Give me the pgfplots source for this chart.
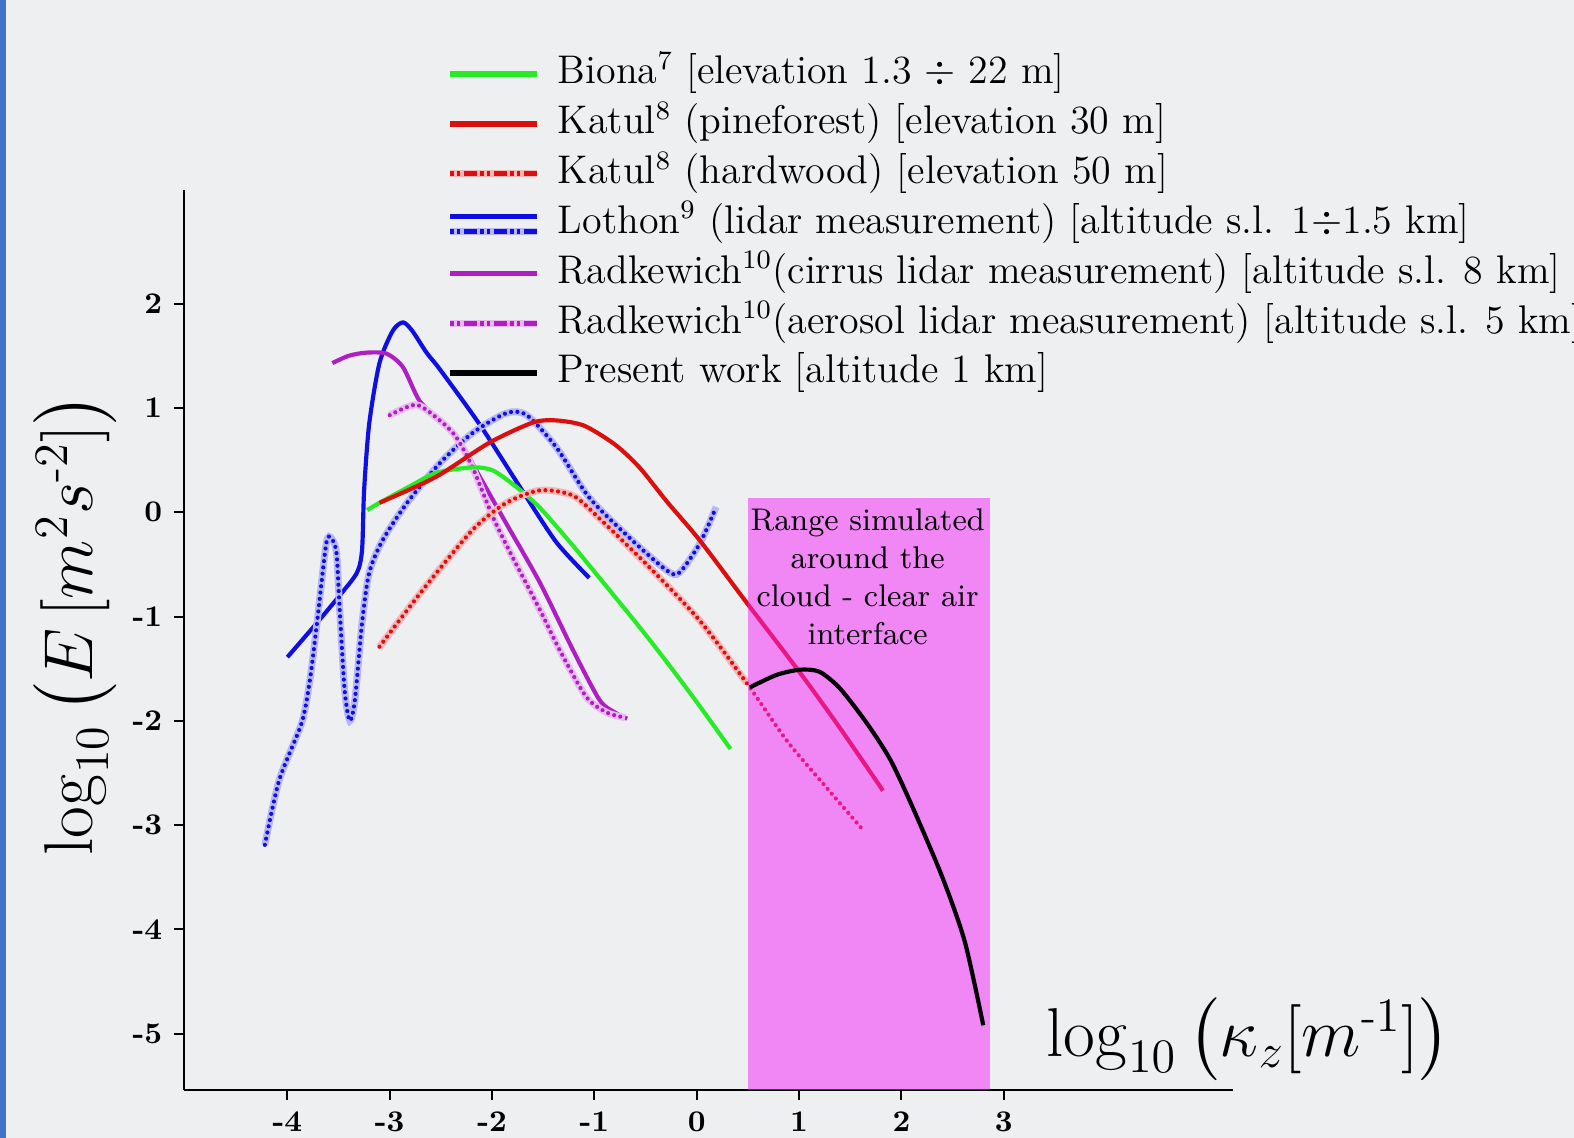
\documentclass[border=0pt]{standalone}
\usepackage{amsmath}
\usepackage{pgfplots}
\pgfplotsset{compat=1.18}
\definecolor{bgc}{RGB}{237,239,241}
\definecolor{strip}{RGB}{68,114,196}
\definecolor{cgreen}{RGB}{40,235,40}
\definecolor{cred}{RGB}{220,15,15}
\definecolor{cblue}{RGB}{15,15,225}
\definecolor{cmag}{RGB}{175,30,195}
\definecolor{cpink}{RGB}{244,32,250}
\pgfplotsset{
  solidline/.style={line width=1.25pt, smooth, tension=0.45, forget plot},
  halo/.style={#1!30, line width=2.1pt, smooth, tension=0.45, forget plot},
  dots/.style={#1, line width=1.25pt, smooth, tension=0.45, dash pattern=on 0pt off 1.9pt, line cap=round, forget plot},
}
\begin{document}
\begin{tikzpicture}
\fill[bgc] (-55.2pt,-14.4pt) rectangle (417pt,327pt);
\fill[strip] (-55.2pt,-14.4pt) rectangle (-53.4pt,327pt);
\begin{axis}[
  scale only axis, width=314.7pt, height=270pt,
  xmin=-5.01, xmax=5.24, ymin=-5.54, ymax=3.09,
  axis x line=bottom, axis y line=left,
  axis line style={-, line width=0.8pt},
  xtick={-4,...,3}, xticklabels={-4,-3,-2,-1,0,1,2,3},
  ytick={-5,...,2}, yticklabels={-5,-4,-3,-2,-1,0,1,2},
  tick align=outside, major tick length=3pt,
  tick style={line width=0.6pt, black},
  ticklabel style={font=\small\bfseries},
  xlabel={$\log_{10}\left(\kappa_z[m^{\text{-}1}]\right)$},
  ylabel={$\log_{10}\left(E\,[m^2s^{\text{-}2}]\right)$},
  xlabel style={at={(axis description cs:0.811,0.056)}, anchor=west, font=\fontsize{19.5}{23}\selectfont},
  ylabel style={at={(axis description cs:-0.104,0.517)}, anchor=center, font=\fontsize{19.5}{23}\selectfont},
  legend style={at={(axis description cs:0.2507,1.149)}, anchor=north west, draw=none, fill=none, inner sep=0pt, outer sep=0pt,
    font=\fontsize{12}{14}\selectfont, row sep=4.05pt,
    nodes={inner sep=0pt, text height=8.4pt, text depth=2.5pt},
    /tikz/every odd column/.append style={column sep=5.4pt}},
  legend cell align=left,
  legend image code/.code={\draw[#1] (0cm,0cm) -- (0.91cm,0cm);},
]
% Lothon solid
\addplot[cblue, solidline] coordinates {(-4.0,-1.39) (-3.85,-1.22) (-3.71,-1.06) (-3.49,-0.80) (-3.32,-0.58) (-3.27,-0.36) (-3.25,0.21) (-3.20,0.85) (-3.10,1.43) (-2.97,1.74) (-2.87,1.82) (-2.78,1.74) (-2.64,1.53) (-2.51,1.37) (-2.12,0.84) (-1.70,0.20) (-1.37,-0.29) (-1.05,-0.63)};
% Lothon dotted
\addplot[halo=cblue] coordinates {(-4.22,-3.19) (-4.08,-2.57) (-3.86,-2.02) (-3.78,-1.61) (-3.71,-1.06) (-3.62,-0.30) (-3.57,-0.25) (-3.52,-0.39) (-3.49,-0.91) (-3.44,-1.71) (-3.39,-2.00) (-3.34,-1.80) (-3.27,-1.06) (-3.20,-0.58) (-3.07,-0.27) (-2.83,0.09) (-2.51,0.47) (-2.19,0.76) (-1.86,0.95) (-1.66,0.93) (-1.37,0.62) (-1.05,0.14) (-0.63,-0.27) (-0.29,-0.56) (-0.17,-0.58) (0.03,-0.30) (0.19,0.05)};
\addplot[dots=cblue] coordinates {(-4.22,-3.19) (-4.08,-2.57) (-3.86,-2.02) (-3.78,-1.61) (-3.71,-1.06) (-3.62,-0.30) (-3.57,-0.25) (-3.52,-0.39) (-3.49,-0.91) (-3.44,-1.71) (-3.39,-2.00) (-3.34,-1.80) (-3.27,-1.06) (-3.20,-0.58) (-3.07,-0.27) (-2.83,0.09) (-2.51,0.47) (-2.19,0.76) (-1.86,0.95) (-1.66,0.93) (-1.37,0.62) (-1.05,0.14) (-0.63,-0.27) (-0.29,-0.56) (-0.17,-0.58) (0.03,-0.30) (0.19,0.05)};
% Radkewich cirrus
\addplot[cmag, solidline] coordinates {(-3.56,1.43) (-3.40,1.50) (-3.23,1.53) (-3.03,1.52) (-2.87,1.39) (-2.71,1.07) (-2.51,0.88) (-2.32,0.69) (-2.12,0.34) (-1.86,-0.11) (-1.53,-0.68) (-1.21,-1.32) (-0.95,-1.80) (-0.80,-1.92) (-0.68,-1.98)};
% Radkewich aerosol
\addplot[halo=cmag] coordinates {(-3.00,0.93) (-2.74,1.03) (-2.51,0.88) (-2.35,0.72) (-2.19,0.43) (-1.99,-0.05) (-1.80,-0.43) (-1.53,-0.94) (-1.34,-1.32) (-1.08,-1.77) (-0.88,-1.92) (-0.70,-1.97)};
\addplot[dots=cmag] coordinates {(-3.00,0.93) (-2.74,1.03) (-2.51,0.88) (-2.35,0.72) (-2.19,0.43) (-1.99,-0.05) (-1.80,-0.43) (-1.53,-0.94) (-1.34,-1.32) (-1.08,-1.77) (-0.88,-1.92) (-0.70,-1.97)};
% Biona
\addplot[cgreen, solidline] coordinates {(-3.22,0.02) (-3.10,0.09) (-2.80,0.25) (-2.54,0.38) (-2.19,0.43) (-1.99,0.40) (-1.76,0.24) (-1.53,0.04) (-1.21,-0.32) (-0.95,-0.63) (-0.56,-1.10) (-0.29,-1.44) (0.0,-1.82) (0.33,-2.27)};
% Katul pineforest
\addplot[cred, solidline] coordinates {(-3.10,0.09) (-2.80,0.22) (-2.51,0.36) (-2.02,0.67) (-1.60,0.86) (-1.37,0.88) (-1.10,0.83) (-0.80,0.65) (-0.56,0.43) (-0.29,0.10) (0.03,-0.27) (0.49,-0.87) (1.01,-1.54) (1.40,-2.07) (1.82,-2.67)};
% Katul hardwood
\addplot[halo=cred] coordinates {(-3.10,-1.29) (-2.68,-0.75) (-2.19,-0.17) (-1.86,0.09) (-1.53,0.21) (-1.21,0.16) (-0.95,-0.06) (-0.46,-0.53) (0.03,-1.04) (0.49,-1.64)};
\addplot[dots=cred] coordinates {(-3.10,-1.29) (-2.68,-0.75) (-2.19,-0.17) (-1.86,0.09) (-1.53,0.21) (-1.21,0.16) (-0.95,-0.06) (-0.46,-0.53) (0.03,-1.04) (0.49,-1.64) (0.88,-2.19) (1.25,-2.62) (1.61,-3.03)};
% simulated range
\addplot[draw=none, fill=cpink, fill opacity=0.5, forget plot] coordinates {(0.5,-5.54) (0.5,0.14) (2.87,0.14) (2.87,-5.54)};
\node[align=center, font=\fontsize{9.4}{11.4}\selectfont, inner sep=0pt] at (axis cs:1.67,-0.62) {Range simulated\\around the\\cloud - clear air\\interface};
% Present work
\addplot[black, solidline] coordinates {(0.52,-1.68) (0.78,-1.56) (1.01,-1.51) (1.20,-1.53) (1.40,-1.69) (1.66,-2.02) (1.89,-2.37) (2.11,-2.83) (2.40,-3.50) (2.62,-4.12) (2.80,-4.92)};
% legend
\addlegendimage{cgreen, line width=1.6pt}
\addlegendentry{Biona$^7$ [elevation 1.3 $\div$ 22 m]}
\addlegendimage{cred, line width=1.6pt}
\addlegendentry{Katul$^8$ (pineforest) [elevation 30 m]}
\addlegendimage{legend image code/.code={\draw[cred!30, line width=2pt] (0cm,0cm)--(0.91cm,0cm); \draw[cred, line width=1.4pt, dash pattern=on 1pt off 1pt on 1pt off 1pt on 4pt off 1pt] (0cm,0cm)--(0.91cm,0cm);}}
\addlegendentry{Katul$^8$ (hardwood) [elevation 50 m]}
\addlegendimage{legend image code/.code={\draw[cblue, line width=1.5pt] (0cm,2.1pt)--(0.91cm,2.1pt); \draw[cblue!30, line width=2pt] (0cm,-2.4pt)--(0.91cm,-2.4pt); \draw[cblue, line width=1.4pt, dash pattern=on 1pt off 1pt on 1pt off 1pt on 4pt off 1pt] (0cm,-2.4pt)--(0.91cm,-2.4pt);}}
\addlegendentry{Lothon$^9$ (lidar measurement) [altitude s.l. 1$\div$1.5 km]}
\addlegendimage{cmag, line width=1.6pt}
\addlegendentry{Radkewich$^{10}$(cirrus lidar measurement) [altitude s.l. 8 km]}
\addlegendimage{legend image code/.code={\draw[cmag!30, line width=2pt] (0cm,0cm)--(0.91cm,0cm); \draw[cmag, line width=1.4pt, dash pattern=on 1pt off 1pt on 1pt off 1pt on 4pt off 1pt] (0cm,0cm)--(0.91cm,0cm);}}
\addlegendentry{Radkewich$^{10}$(aerosol lidar measurement) [altitude s.l. 5 km]}
\addlegendimage{black, line width=1.6pt}
\addlegendentry{Present work [altitude 1 km]}
\end{axis}
\pgfresetboundingbox
\useasboundingbox (-55.2pt,-14.4pt) rectangle (417pt,327pt);
\end{tikzpicture}
\end{document}
